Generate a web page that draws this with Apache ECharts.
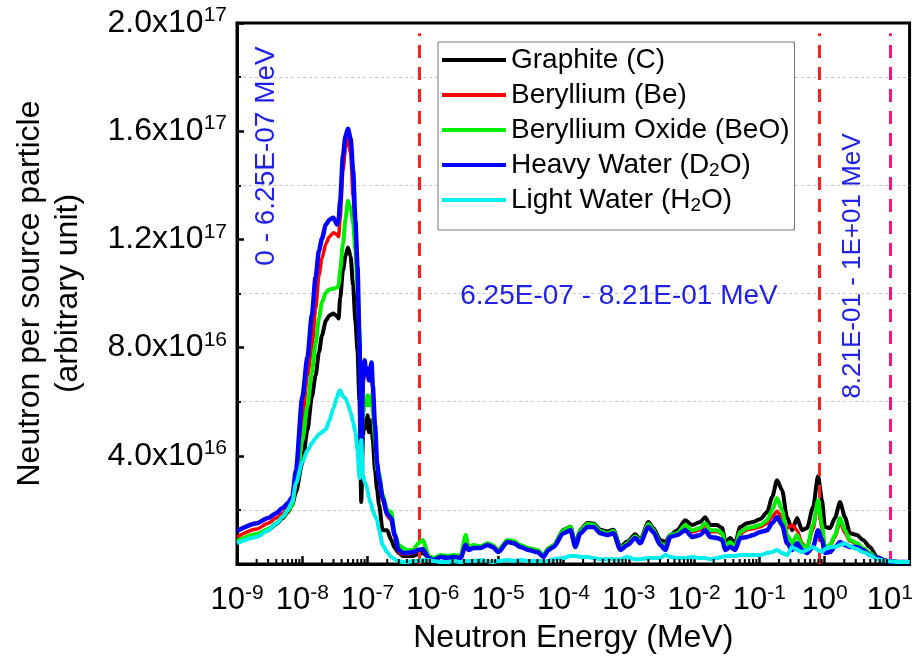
<!DOCTYPE html>
<html><head><meta charset="utf-8">
<script src="https://cdn.jsdelivr.net/npm/echarts@6/dist/echarts.min.js"></script>
<style>html,body{margin:0;padding:0;background:#fff}#c{width:916px;height:670px}</style>
</head><body><div id="c"></div>
<script>
// ---- Data (values in units of 1e16 neutrons per source particle) ----
const energyThermal = [1e-9, 2e-9, 3e-9, 4e-9, 5e-9, 6e-9, 7e-9, 8e-9, 1e-8, 1.2e-8,
 1.4e-8, 1.6e-8, 1.8e-8, 2e-8, 2.3e-8, 2.6e-8, 3e-8, 3.4e-8, 3.6e-8, 3.8e-8,
 4.2e-8, 4.6e-8, 5e-8, 5.5e-8, 6e-8, 6.5e-8, 7e-8, 7.5e-8, 8e-8, 8.5e-8,
 9e-8, 9.5e-8, 1e-7, 1.05e-7, 1.1e-7, 1.15e-7, 1.2e-7, 1.3e-7, 1.4e-7, 1.5e-7,
 1.7e-7, 2e-7, 2.3e-7, 2.6e-7, 3e-7, 3.5e-7, 4e-7, 5e-7, 6e-7, 7e-7];
const energyFast = [8.63e-7, 1.03e-6, 1.32e-6, 1.68e-6, 2.08e-6, 2.66e-6, 3.18e-6, 3.52e-6, 4.21e-6, 5.38e-6,
 6.89e-6, 8.2e-6, 1.01e-5, 1.39e-5, 1.72e-5, 2.2e-5, 2.92e-5, 4.0e-5, 4.94e-5, 5.9e-5,
 7.03e-5, 1.0e-4, 1.28e-4, 1.52e-4, 1.82e-4, 2.33e-4, 2.88e-4, 3.68e-4, 4.71e-4, 5.82e-4,
 7.45e-4, 9.53e-4, 1.26e-3, 1.5e-3, 2.0e-3, 2.38e-3, 3.04e-3, 3.63e-3, 4.32e-3, 5.53e-3,
 7.33e-3, 9.37e-3, 1.24e-2, 1.48e-2, 1.77e-2, 2.26e-2, 2.7e-2, 3.0e-2, 3.58e-2, 4.27e-2,
 5.08e-2, 6.5e-2, 8.04e-2, 0.103, 0.132, 0.157, 0.187, 0.223, 0.266, 0.318,
 0.378, 0.451, 0.538, 0.665, 0.793, 0.912, 1.01, 1.21, 1.44, 1.72,
 2.05, 2.44, 3.13, 3.86, 4.94, 6.32, 9.0, 14.2, 20];

const graphiteThermal = [0.81, 1.07, 1.25, 1.48, 1.70, 1.92, 2.18, 2.66, 3.73, 4.94,
 6.16, 6.97, 7.82, 8.45, 9.0, 9.19, 9.26, 9.15, 9.08, 9.82,
 10.85, 11.4, 11.7, 11.37, 10.3, 9.0, 7.9, 6.05, 2.29, 4.76,
 5.31, 5.02, 5.5, 4.87, 5.31, 5.13, 4.58, 3.47, 2.73, 2.18,
 1.25, 1.25, 0.89, 0.59, 0.41, 0.30, 0.30, 0.30, 0.37, 0.41];
const graphiteFast = [0.26, 0.18, 0.30, 0.26, 0.30, 0.26, 0.85, 0.59, 0.66, 0.63,
 0.74, 0.66, 0.48, 0.85, 0.81, 0.66, 0.55, 0.48, 0.30, 0.55,
 0.66, 1.27, 1.38, 0.76, 1.27, 1.52, 1.50, 1.27, 1.20, 1.27,
 0.63, 0.83, 1.10, 0.90, 1.55, 1.33, 0.89, 0.81, 1.07, 1.25,
 1.62, 1.44, 1.55, 1.73, 1.44, 1.44, 1.33, 0.81, 0.96, 0.77,
 1.37, 1.51, 1.55, 1.66, 1.92, 2.47, 3.10, 2.73, 1.73, 1.25,
 1.70, 1.25, 1.33, 2.10, 3.25, 2.36, 1.37, 1.33, 1.70, 2.29,
 1.73, 1.14, 1.07, 0.89, 0.63, 0.26, 0.11, 0.07, 0.07];

const berylliumThermal = [1.0, 1.29, 1.51, 1.70, 1.88, 2.07, 2.29, 3.1, 5.31, 6.97,
 7.97, 9.41, 10.66, 11.29, 11.84, 12.10, 12.25, 12.18, 12.10, 12.77,
 14.54, 15.39, 15.72, 15.2, 13.6, 12.14, 10.66, 8.08, 4.2, 6.6,
 7.34, 6.97, 7.08, 6.79, 7.08, 7.34, 6.49, 5.02, 3.65, 3.10,
 2.36, 1.77, 1.62, 1.0, 0.44, 0.37, 0.37, 0.41, 0.52, 0.52];
const berylliumFast = [0.26, 0.18, 0.30, 0.26, 0.30, 0.26, 0.85, 0.59, 0.66, 0.63,
 0.74, 0.66, 0.48, 0.85, 0.81, 0.66, 0.55, 0.48, 0.30, 0.55,
 0.66, 1.20, 1.31, 0.66, 1.20, 1.42, 1.42, 1.18, 1.10, 1.18,
 0.55, 0.74, 1.00, 0.81, 1.42, 1.22, 0.74, 0.59, 1.03, 1.10,
 1.38, 1.18, 1.27, 1.44, 1.18, 1.20, 1.10, 0.66, 0.78, 0.63,
 1.10, 1.27, 1.30, 1.38, 1.50, 1.75, 1.95, 1.70, 1.33, 1.44,
 1.25, 0.77, 0.59, 1.30, 2.30, 1.30, 0.59, 0.66, 1.00, 1.55,
 1.15, 0.85, 0.74, 0.55, 0.37, 0.20, 0.11, 0.07, 0.07];

const berylliumOxideThermal = [0.85, 1.11, 1.29, 1.51, 1.73, 1.96, 2.18, 3.1, 4.54, 5.83,
 7.08, 8.15, 9.08, 9.67, 10.04, 10.15, 10.18, 10.22, 10.3, 10.85,
 11.84, 12.77, 13.43, 13.14, 12.62, 11.59, 10.3, 8.63, 4.2, 5.5,
 6.05, 5.87, 6.24, 5.87, 6.13, 6.24, 5.68, 4.58, 3.47, 3.36,
 2.55, 1.99, 1.92, 1.14, 0.70, 0.59, 0.52, 0.52, 0.77, 0.89];
const berylliumOxideFast = [0.30, 0.22, 0.33, 0.30, 0.33, 0.30, 1.07, 0.63, 0.70, 0.66,
 0.77, 0.70, 0.52, 0.89, 0.85, 0.70, 0.59, 0.52, 0.33, 0.59,
 0.70, 1.25, 1.37, 0.70, 1.25, 1.48, 1.46, 1.22, 1.14, 1.22,
 0.59, 0.77, 1.03, 0.85, 1.48, 1.27, 0.77, 0.66, 1.07, 1.14,
 1.44, 1.25, 1.33, 1.51, 1.25, 1.25, 1.14, 0.70, 0.81, 0.66,
 1.18, 1.33, 1.37, 1.44, 1.62, 1.99, 2.44, 1.99, 1.07, 0.77,
 1.07, 0.70, 0.63, 1.44, 2.36, 1.44, 0.63, 0.70, 1.07, 1.70,
 1.25, 0.89, 0.77, 0.59, 0.41, 0.22, 0.11, 0.07, 0.07];

const heavyWaterThermal = [1.22, 1.51, 1.70, 1.88, 2.07, 2.25, 2.47, 3.47, 6.16, 7.64,
 9.19, 10.6, 11.59, 12.03, 12.55, 12.73, 12.80, 12.55, 12.7, 13.43,
 15.09, 15.83, 16.09, 15.72, 14.54, 12.69, 11.03, 8.27, 3.84, 6.79,
 7.53, 7.08, 7.23, 6.79, 7.23, 7.45, 6.6, 5.13, 3.73, 3.17,
 2.44, 1.85, 1.70, 1.07, 0.52, 0.41, 0.41, 0.44, 0.52, 0.55];
const heavyWaterFast = [0.22, 0.15, 0.26, 0.22, 0.26, 0.22, 0.70, 0.52, 0.59, 0.59,
 0.70, 0.63, 0.44, 0.81, 0.77, 0.63, 0.52, 0.44, 0.26, 0.52,
 0.63, 1.14, 1.25, 0.63, 1.14, 1.37, 1.37, 1.14, 1.07, 1.14,
 0.52, 0.70, 0.96, 0.77, 1.37, 1.18, 0.70, 0.52, 1.0, 1.07,
 1.25, 1.0, 1.07, 1.25, 1.0, 0.96, 0.89, 0.52, 0.63, 0.52,
 0.96, 1.0, 1.07, 1.18, 1.25, 1.51, 1.73, 1.44, 0.77, 0.52,
 0.77, 0.52, 0.41, 0.63, 1.25, 0.89, 0.41, 0.44, 0.63, 0.81,
 0.70, 0.63, 0.63, 0.52, 0.33, 0.22, 0.11, 0.07, 0.07];

const lightWaterThermal = [0.77, 1.0, 1.25, 1.5, 1.75, 2.0, 2.3, 2.99, 3.76, 4.2,
 4.46, 4.65, 4.8, 4.87, 4.98, 5.31, 5.76, 6.16, 6.35, 6.42,
 6.2, 6.13, 5.9, 5.61, 5.24, 4.87, 4.2, 3.17, 4.58, 3.28,
 3.03, 2.92, 2.73, 2.44, 2.29, 2.18, 1.99, 1.77, 1.62, 1.25,
 0.70, 0.44, 0.26, 0.18, 0.11, 0.07, 0.07, 0.11, 0.11, 0.15];
const lightWaterFast = [0.15, 0.11, 0.07, 0.07, 0.11, 0.07, 0.11, 0.11, 0.11, 0.15,
 0.11, 0.07, 0.11, 0.15, 0.11, 0.15, 0.11, 0.11, 0.11, 0.11,
 0.18, 0.22, 0.30, 0.30, 0.26, 0.26, 0.22, 0.18, 0.18, 0.18,
 0.18, 0.26, 0.18, 0.18, 0.22, 0.22, 0.22, 0.33, 0.26, 0.22,
 0.22, 0.26, 0.22, 0.22, 0.18, 0.22, 0.26, 0.30, 0.30, 0.30,
 0.33, 0.33, 0.33, 0.33, 0.41, 0.44, 0.52, 0.41, 0.33, 0.63,
 0.52, 0.44, 0.52, 0.63, 0.52, 0.44, 0.55, 0.63, 0.63, 0.70,
 0.77, 0.66, 0.55, 0.44, 0.33, 0.18, 0.11, 0.07, 0.07];

const seriesNames = ['Graphite (C)', 'Beryllium (Be)', 'Beryllium Oxide (BeO)', 'Heavy Water (D2O)', 'Light Water (H2O)'];
const yTickValues = [4, 8, 12, 16, 20];
const yTickMantissas = ['4.0', '8.0', '1.2', '1.6', '2.0'];
const yTickExponents = ['16', '16', '17', '17', '17'];
const boundaryEnergies = [6.25e-7, 8.21e-1, 1e1];
const minorMantissas = [2, 3, 4, 5, 6, 7, 8, 9];
const minorDecades = [1e-9, 1e-8, 1e-7, 1e-6, 1e-5, 1e-4, 1e-3, 1e-2, 1e-1, 1e0];
const rangeLabels = ['0 - 6.25E-07 MeV', '6.25E-07 - 8.21E-01 MeV', '8.21E-01 - 1E+01 MeV'];

// ---- Build ----
const energy = energyThermal.concat(energyFast);
const allValues = [
  graphiteThermal.concat(graphiteFast),
  berylliumThermal.concat(berylliumFast),
  berylliumOxideThermal.concat(berylliumOxideFast),
  heavyWaterThermal.concat(heavyWaterFast),
  lightWaterThermal.concat(lightWaterFast)
];
const colors = ['#000000', '#ff0000', '#00ee00', '#0000ff', '#00eeee'];
const widths = [4, 3.5, 4, 4.5, 4];
const FONT = "'Liberation Sans', Arial, sans-serif";
const minorTicks = [];
minorDecades.forEach(d => minorMantissas.forEach(m => minorTicks.push([m * d, 0])));

const series = allValues.map((vals, k) => ({
  name: seriesNames[k], type: 'line', showSymbol: false, symbol: 'none',
  smooth: 0.25, smoothMonotone: 'x',
  data: energy.map((e, i) => [e, vals[i]]),
  lineStyle: { color: colors[k], width: widths[k] },
  itemStyle: { color: colors[k] },
  z: 3 + k, silent: true
}));
series[0].markLine = {
  silent: true, symbol: ['none', 'none'], label: { show: false },
  data: boundaryEnergies.map((b, i) => {
    const ls = { color: i === 2 ? '#f5157f' : '#ff1f1f', width: 3, type: [13, 9] };
    return [{ coord: [b, 0], lineStyle: ls }, { coord: [b, 19.62], lineStyle: ls }];
  })
};
series.push({
  type: 'custom', coordinateSystem: 'cartesian2d', silent: true, z: 20,
  data: minorTicks,
  renderItem: (params, api) => {
    const p = api.coord([api.value(0), 0]);
    return { type: 'line', shape: { x1: p[0], y1: p[1] - 1, x2: p[0], y2: p[1] - 5 },
      style: { stroke: '#000', lineWidth: 2 } };
  }
});

const chart = echarts.init(document.getElementById('c'), null, { renderer: 'canvas' });
chart.setOption({
  animation: false,
  backgroundColor: '#fff',
  grid: { left: 237, right: 6, top: 23, bottom: 106, show: true, borderColor: '#000', borderWidth: 3 },
  legend: {
    data: seriesNames, orient: 'vertical', left: 438, top: 42,
    icon: 'rect', itemWidth: 64, itemHeight: 4, itemGap: 5,
    padding: [3, 5, 15, 4], borderColor: '#777', borderWidth: 1, backgroundColor: '#fff',
    formatter: n => n.replace('D2O', 'D{sub|2}O').replace('H2O', 'H{sub|2}O'),
    textStyle: { fontSize: 28, lineHeight: 30, color: '#000', fontFamily: FONT,
      rich: { sub: { fontSize: 19, lineHeight: 12, verticalAlign: 'bottom', color: '#000', fontFamily: FONT } } }
  },
  xAxis: {
    type: 'log', logBase: 10, min: 1e-9, max: 20, interval: 1,
    name: 'Neutron Energy (MeV)', nameLocation: 'middle', nameGap: 58,
    nameTextStyle: { fontSize: 32, color: '#000', fontFamily: FONT },
    axisLine: { show: true, lineStyle: { color: '#000', width: 3 } },
    axisTick: { show: true, inside: true, length: 8, lineStyle: { color: '#000', width: 2.5 } },
    minorTick: { show: false },
    splitLine: { show: false },
    axisLabel: {
      margin: 19, color: '#000', fontSize: 31, lineHeight: 34, fontFamily: FONT, showMaxLabel: false,
      formatter: v => '10{sup|' + Math.round(Math.log10(v)) + '}',
      rich: { sup: { fontSize: 21, lineHeight: 16, verticalAlign: 'top', color: '#000', fontFamily: FONT } }
    }
  },
  yAxis: {
    type: 'value', min: 0, max: 20, interval: 4,
    name: 'Neutron per source particle\n(arbitrary unit)', nameLocation: 'middle', nameGap: 150,
    nameTextStyle: { fontSize: 32, lineHeight: 38, color: '#000', fontFamily: FONT },
    axisLine: { show: true, lineStyle: { color: '#000', width: 3 } },
    axisTick: { show: true, inside: true, length: 7, lineStyle: { color: '#000', width: 2.5 } },
    minorTick: { show: true, splitNumber: 2, length: 4, lineStyle: { color: '#000', width: 2 } },
    splitLine: { show: false },
    minorSplitLine: { show: true, lineStyle: { color: '#c8c8c8', type: [3, 3], width: 1 } },
    axisLabel: {
      margin: 10, color: '#000', fontSize: 32, lineHeight: 36, fontFamily: FONT,
      formatter: v => { const i = yTickValues.indexOf(v); return i < 0 ? '' : yTickMantissas[i] + 'x10{sup|' + yTickExponents[i] + '}'; },
      rich: { sup: { fontSize: 21, lineHeight: 16, verticalAlign: 'top', color: '#000', fontFamily: FONT } }
    }
  },
  graphic: [
    { type: 'text', x: 266, y: 156, rotation: Math.PI / 2, z: 50,
      style: { text: rangeLabels[0], fill: '#2020e6', font: '28px ' + FONT, align: 'center', verticalAlign: 'middle' } },
    { type: 'text', x: 619, y: 296, z: 50,
      style: { text: rangeLabels[1], fill: '#2020e6', font: '28px ' + FONT, align: 'center', verticalAlign: 'middle' } },
    { type: 'text', x: 853, y: 266, rotation: Math.PI / 2, z: 50,
      style: { text: rangeLabels[2], fill: '#2020e6', font: '26px ' + FONT, align: 'center', verticalAlign: 'middle' } }
  ],
  series: series
});
</script></body></html>
